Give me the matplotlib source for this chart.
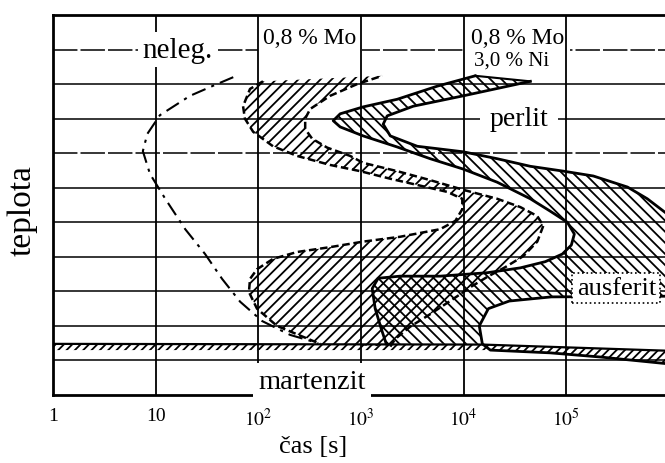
import matplotlib.pyplot as plt

plt.rcParams['font.family'] = ['Liberation Serif', 'DejaVu Serif']
plt.rcParams['mathtext.fontset'] = 'stix'
plt.rcParams['hatch.linewidth'] = 1.3

# time [s] / temperature (grid step = 50)
neleg_t = [57, 35.5, 21.6, 11.0, 8.3, 7.5, 8.8, 12.4, 19.4, 30.3, 44.4, 66.5, 109, 204, 383]
neleg_T = [610, 597, 583, 555, 528, 503, 470, 434, 390, 354, 318, 285, 257, 237, 225]

# 0,8 % Mo : start (top -> bottom) and end (bottom -> top)
mo_start_t = [111, 83, 71, 74, 89, 139, 239, 500, 980, 1930, 3780, 6900, 9700, 9700,
              8300, 5900, 2400, 1050, 500, 239, 139, 97, 83, 81, 97, 152, 255, 400]
mo_start_T = [604, 593, 568, 550, 531, 510, 496, 483, 474, 463, 453, 444, 434, 419,
              402, 390, 379, 372, 364, 357, 347, 332, 318, 299, 275, 250, 236, 224]
mo_end_t = [1930, 2150, 3020, 4720, 8670, 11600, 17000, 25400, 38100, 52100, 59700, 52100,
            35600, 21200, 9900, 4720, 2250, 1050, 785, 469, 334, 286, 286, 320, 500, 918, 1610]
mo_end_T = [220, 231, 249, 267, 293, 306, 321, 335, 351, 372, 395, 409,
            422, 434, 447, 461, 474, 486, 496, 508, 521, 535, 550, 564, 583, 600, 612]

# 0,8 % Mo + 3,0 % Ni
moni_start_t = [12970, 5530, 2250, 1050, 627, 536, 627, 1050, 2250, 4720, 9900, 21200, 44600,
                69800, 102300, 119700, 111900, 91400, 62400, 35600, 17000, 5900, 2400, 1470,
                1285, 1375, 1574, 1762]
moni_start_T = [612, 597, 578, 567, 557, 547, 538, 525, 509, 492, 477, 458, 434,
                416, 400, 383, 367, 354, 343, 334, 327, 322, 322, 319,
                304, 275, 246, 224]
moni_end_t = [1e6, 615000, 394000, 183000, 93500, 44600, 21200, 9900, 3530, 1930, 1645,
              1800, 3230, 9900, 44600]
moni_end_T = [410, 434, 451, 467, 474, 481, 492, 502, 510, 525, 542, 554, 568, 583, 604]
moni_low_t = [1e6, 71400, 27800, 17400, 14200, 15200]
moni_low_T = [293, 292, 286, 275, 250, 224]

# martensite start line
ms_top_t = [1, 15200, 1e6]
ms_top_T = [224, 223, 214]
ms_bot_t = [1, 18200, 69800, 214000, 1e6]
ms_bot_T = [215, 215, 211, 205, 195]

grid_T = [650, 600, 550, 500, 450, 400, 350, 300, 250, 200]
grid_t = [10, 100, 1e3, 1e4, 1e5]
tick_t = [1, 10, 100, 1e3, 1e4, 1e5]
tick_lab = ['1', '10', '$10^2$', '$10^3$', '$10^4$', '$10^5$']

fig = plt.figure(figsize=(6.65, 4.64), dpi=100)
ax = fig.add_axes([53/665, 1-396/464, 616/665, 380/464])
ax.set_xscale('log')
ax.set_xlim(1, 1e6)
ax.set_ylim(150, 700)

for T in grid_T:
    ls = (0, (16, 2)) if T in (650, 500) else '-'
    ax.axhline(T, color='k', lw=1.1, ls=ls, zorder=1)
for t in grid_t:
    ax.axvline(t, color='k', lw=1.3, zorder=4)

# hatched regions
ax.fill(mo_start_t + mo_end_t, mo_start_T + mo_end_T,
        fc='none', ec='k', lw=0, hatch='///', zorder=2)
ax.fill(moni_start_t + moni_low_t[::-1] + moni_end_t,
        moni_start_T + moni_low_T[::-1] + moni_end_T,
        fc='none', ec='k', lw=0, hatch='\\\\\\', zorder=2)
ax.fill(ms_top_t + ms_bot_t[::-1], ms_top_T + ms_bot_T[::-1],
        fc='none', ec='k', lw=0, hatch='////', zorder=2)

# boundary curves
ax.plot(neleg_t, neleg_T, color='k', lw=1.5, ls=(0, (7, 3, 1.5, 3)), zorder=3)
ax.plot(mo_start_t, mo_start_T, color='k', lw=1.8, ls=(0, (3, 1.5)), zorder=3)
ax.plot(mo_end_t, mo_end_T, color='k', lw=1.8, ls=(0, (3, 1.5)), zorder=3)
ax.plot(moni_start_t, moni_start_T, color='k', lw=2.0, zorder=3)
ax.plot(moni_end_t, moni_end_T, color='k', lw=2.0, zorder=3)
ax.plot([moni_end_t[-1], moni_start_t[0]], [moni_end_T[-1], moni_start_T[0]], color='k', lw=1.5, zorder=3)
ax.plot(moni_low_t + ms_bot_t[1:], moni_low_T + ms_bot_T[1:], color='k', lw=2.0, zorder=3)
ax.plot(ms_top_t, ms_top_T, color='k', lw=1.6, zorder=3)

ax.text(16.2, 650, 'neleg.', fontsize=21, ha='center', va='center',
        bbox=dict(fc='white', ec='none', pad=3), zorder=5)
ax.text(112, 660, '0,8 % Mo', fontsize=17, ha='left', va='baseline',
        bbox=dict(fc='white', ec='none', pad=4), zorder=3)
ax.text(11800, 660, '0,8 % Mo', fontsize=17, ha='left', va='baseline',
        bbox=dict(fc='white', ec='none', pad=4), zorder=3)
ax.text(12500, 628, '3,0 % Ni', fontsize=15, ha='left', va='baseline',
        bbox=dict(fc='white', ec='none', pad=1), zorder=3)
ax.text(34800, 550, 'perlit', fontsize=20, ha='center', va='center',
        bbox=dict(fc='white', ec='none', pad=7), zorder=5)
ax.text(307000, 305, 'ausferit', fontsize=19, ha='center', va='center',
        bbox=dict(fc='white', ec='k', ls=':', lw=1.2, pad=3), zorder=5)
ax.text(334, 170, 'martenzit', fontsize=20.5, ha='center', va='center',
        bbox=dict(fc='white', ec='none', pad=4), zorder=5)

ax.set_xticks(tick_t)
ax.set_xticklabels(tick_lab)
ax.minorticks_off()
ax.tick_params(axis='x', length=0, pad=9, labelsize=14)
ax.set_yticks([])
for s in ['left', 'top', 'bottom']:
    ax.spines[s].set_linewidth(2.0)
ax.spines['right'].set_visible(False)

fig.text(22/665, 1-211/464, 'teplota', rotation=90, fontsize=24, ha='center', va='center')
fig.text(313/665, 1-447/464, 'čas [s]', fontsize=19, ha='center', va='center')

fig.savefig('out.png', dpi=100)
